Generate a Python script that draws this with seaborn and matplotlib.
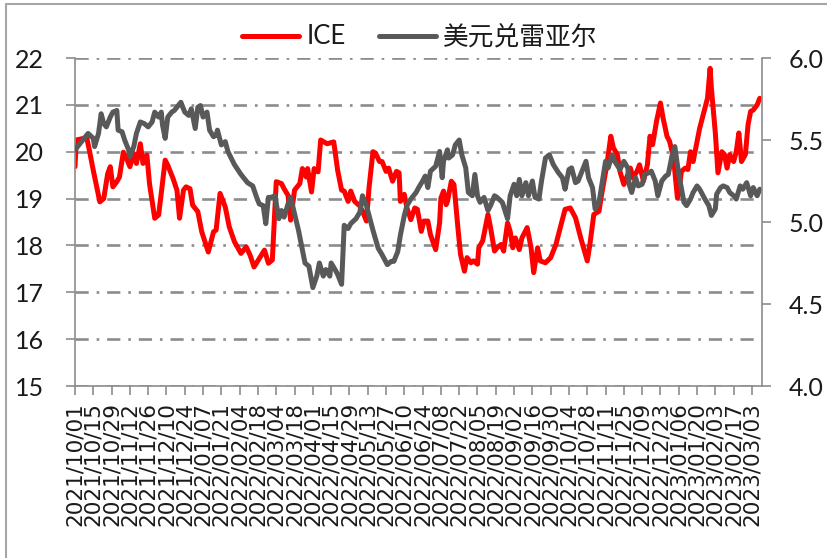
import pandas as pd
import seaborn as sns
import matplotlib.pyplot as plt
from matplotlib.lines import Line2D

sns.set_style('white')
plt.rcParams['font.family'] = ['Lato', 'Noto Sans CJK SC', 'DejaVu Sans']

# ICE raw sugar (left axis)
ice_dates = ['2021-10-01', '2021-10-02', '2021-10-10', '2021-10-12', '2021-10-15', '2021-10-20',
             '2021-10-23', '2021-10-26', '2021-10-28', '2021-10-30', '2021-11-02', '2021-11-04',
             '2021-11-07', '2021-11-09', '2021-11-12', '2021-11-15', '2021-11-17', '2021-11-20',
             '2021-11-22', '2021-11-25', '2021-11-27', '2021-12-01', '2021-12-04', '2021-12-06',
             '2021-12-09', '2021-12-11', '2021-12-15', '2021-12-18', '2021-12-20', '2021-12-23',
             '2021-12-25', '2021-12-28', '2021-12-30', '2022-01-03', '2022-01-06', '2022-01-11',
             '2022-01-15', '2022-01-17', '2022-01-20', '2022-01-24', '2022-01-27', '2022-01-31',
             '2022-02-05', '2022-02-09', '2022-02-12', '2022-02-15', '2022-02-19', '2022-02-23',
             '2022-02-26', '2022-03-01', '2022-03-04', '2022-03-08', '2022-03-10', '2022-03-13',
             '2022-03-15', '2022-03-18', '2022-03-22', '2022-03-24', '2022-03-27', '2022-03-28',
             '2022-03-31', '2022-04-02', '2022-04-05', '2022-04-07', '2022-04-12', '2022-04-17',
             '2022-04-20', '2022-04-23', '2022-04-25', '2022-04-28', '2022-04-30', '2022-05-03',
             '2022-05-07', '2022-05-09', '2022-05-12', '2022-05-14', '2022-05-17', '2022-05-19',
             '2022-05-22', '2022-05-24', '2022-05-27', '2022-05-29', '2022-06-01', '2022-06-04',
             '2022-06-06', '2022-06-07', '2022-06-10', '2022-06-12', '2022-06-15', '2022-06-18',
             '2022-06-20', '2022-06-23', '2022-06-25', '2022-06-28', '2022-06-30', '2022-07-04',
             '2022-07-07', '2022-07-08', '2022-07-10', '2022-07-12', '2022-07-13', '2022-07-16',
             '2022-07-18', '2022-07-21', '2022-07-23', '2022-07-26', '2022-07-28', '2022-07-31',
             '2022-08-02', '2022-08-05', '2022-08-06', '2022-08-09', '2022-08-13', '2022-08-15',
             '2022-08-18', '2022-08-20', '2022-08-23', '2022-08-25', '2022-08-28', '2022-08-30',
             '2022-09-01', '2022-09-03', '2022-09-06', '2022-09-08', '2022-09-12', '2022-09-15',
             '2022-09-17', '2022-09-20', '2022-09-22', '2022-09-26', '2022-09-30', '2022-10-04',
             '2022-10-08', '2022-10-11', '2022-10-15', '2022-10-19', '2022-10-23', '2022-10-28',
             '2022-10-30', '2022-11-02', '2022-11-06', '2022-11-08', '2022-11-12', '2022-11-15',
             '2022-11-17', '2022-11-20', '2022-11-22', '2022-11-25', '2022-11-28', '2022-11-30',
             '2022-12-02', '2022-12-05', '2022-12-07', '2022-12-10', '2022-12-13', '2022-12-15',
             '2022-12-17', '2022-12-20', '2022-12-23', '2022-12-25', '2022-12-28', '2022-12-30',
             '2023-01-02', '2023-01-05', '2023-01-06', '2023-01-08', '2023-01-11', '2023-01-13',
             '2023-01-15', '2023-01-17', '2023-01-20', '2023-01-22', '2023-01-25', '2023-01-28',
             '2023-01-30', '2023-01-31', '2023-02-03', '2023-02-05', '2023-02-08', '2023-02-10',
             '2023-02-12', '2023-02-14', '2023-02-17', '2023-02-19', '2023-02-21', '2023-02-23',
             '2023-02-26', '2023-02-28', '2023-03-02', '2023-03-04', '2023-03-07', '2023-03-09']
ice_values = [19.68, 20.25, 20.30, 20.03, 19.60, 18.93,
              19.00, 19.53, 19.68, 19.25, 19.36, 19.46,
              19.99, 19.89, 19.68, 19.96, 19.75, 20.17,
              19.75, 19.93, 19.32, 18.58, 18.65, 19.11,
              19.82, 19.71, 19.43, 19.18, 18.58, 19.18,
              19.25, 19.21, 18.86, 18.72, 18.29, 17.86,
              18.29, 18.33, 19.11, 18.82, 18.40, 18.08,
              17.83, 17.97, 17.79, 17.54, 17.72, 17.90,
              17.62, 17.69, 19.36, 19.32, 19.21, 19.07,
              18.54, 19.18, 19.32, 19.64, 19.46, 19.64,
              19.14, 19.64, 19.57, 20.25, 20.17, 20.21,
              19.60, 19.18, 19.16, 18.94, 19.16, 18.94,
              18.84, 18.73, 18.52, 19.23, 20.00, 19.97,
              19.79, 19.79, 19.58, 19.65, 19.37, 19.58,
              19.55, 18.94, 19.09, 18.80, 18.55, 18.80,
              18.77, 18.30, 18.52, 18.52, 18.23, 17.91,
              18.48, 19.01, 19.16, 18.87, 18.94, 19.37,
              19.30, 18.38, 17.81, 17.45, 17.74, 17.63,
              17.67, 17.60, 17.95, 18.10, 18.66, 18.38,
              17.88, 17.95, 18.02, 17.88, 18.48, 18.30,
              17.95, 18.16, 17.91, 18.16, 18.38, 17.95,
              17.42, 17.95, 17.67, 17.63, 17.74, 18.02,
              18.45, 18.77, 18.80, 18.59, 18.16, 17.67,
              18.02, 18.66, 18.73, 19.09, 19.72, 20.33,
              20.08, 19.94, 19.58, 19.30, 19.51, 19.65,
              19.44, 19.58, 19.72, 19.37, 19.72, 20.33,
              20.15, 20.65, 21.04, 20.72, 20.33, 20.22,
              19.87, 19.01, 19.09, 19.58, 19.65, 19.62,
              20.00, 19.79, 20.22, 20.50, 20.82, 21.14,
              21.78, 21.35, 20.40, 19.55, 20.00, 19.94,
              19.65, 19.94, 19.79, 20.00, 20.40, 19.79,
              19.94, 20.57, 20.86, 20.89, 21.00, 21.14]

# USD/BRL (right axis)
brl_dates = ['2021-10-01', '2021-10-06', '2021-10-11', '2021-10-15', '2021-10-16', '2021-10-19',
             '2021-10-21', '2021-10-23', '2021-10-25', '2021-10-28', '2021-10-30', '2021-11-02',
             '2021-11-03', '2021-11-06', '2021-11-08', '2021-11-11', '2021-11-12', '2021-11-15',
             '2021-11-17', '2021-11-20', '2021-11-23', '2021-11-26', '2021-11-29', '2021-12-01',
             '2021-12-04', '2021-12-06', '2021-12-07', '2021-12-09', '2021-12-11', '2021-12-14',
             '2021-12-16', '2021-12-19', '2021-12-21', '2021-12-24', '2021-12-27', '2021-12-29',
             '2022-01-01', '2022-01-03', '2022-01-05', '2022-01-07', '2022-01-10', '2022-01-12',
             '2022-01-15', '2022-01-17', '2022-01-18', '2022-01-21', '2022-01-24', '2022-01-26',
             '2022-01-31', '2022-02-05', '2022-02-10', '2022-02-14', '2022-02-17', '2022-02-19',
             '2022-02-22', '2022-02-24', '2022-02-26', '2022-02-28', '2022-03-03', '2022-03-06',
             '2022-03-08', '2022-03-10', '2022-03-13', '2022-03-15', '2022-03-18', '2022-03-21',
             '2022-03-23', '2022-03-26', '2022-03-29', '2022-04-01', '2022-04-04', '2022-04-06',
             '2022-04-09', '2022-04-11', '2022-04-14', '2022-04-15', '2022-04-18', '2022-04-20',
             '2022-04-23', '2022-04-24', '2022-04-25', '2022-04-28', '2022-04-30', '2022-05-04',
             '2022-05-07', '2022-05-09', '2022-05-12', '2022-05-14', '2022-05-17', '2022-05-21',
             '2022-05-24', '2022-05-28', '2022-05-31', '2022-06-02', '2022-06-05', '2022-06-07',
             '2022-06-10', '2022-06-12', '2022-06-15', '2022-06-19', '2022-06-21', '2022-06-24',
             '2022-06-26', '2022-06-28', '2022-06-30', '2022-07-04', '2022-07-07', '2022-07-09',
             '2022-07-10', '2022-07-13', '2022-07-14', '2022-07-17', '2022-07-19', '2022-07-22',
             '2022-07-24', '2022-07-27', '2022-07-29', '2022-08-01', '2022-08-03', '2022-08-05',
             '2022-08-07', '2022-08-10', '2022-08-13', '2022-08-15', '2022-08-18', '2022-08-20',
             '2022-08-24', '2022-08-28', '2022-08-30', '2022-09-02', '2022-09-04', '2022-09-06',
             '2022-09-08', '2022-09-11', '2022-09-13', '2022-09-16', '2022-09-18', '2022-09-21',
             '2022-09-23', '2022-09-26', '2022-09-29', '2022-10-02', '2022-10-06', '2022-10-09',
             '2022-10-11', '2022-10-14', '2022-10-16', '2022-10-19', '2022-10-21', '2022-10-24',
             '2022-10-27', '2022-10-29', '2022-11-01', '2022-11-03', '2022-11-06', '2022-11-08',
             '2022-11-11', '2022-11-13', '2022-11-16', '2022-11-18', '2022-11-22', '2022-11-25',
             '2022-11-28', '2022-11-29', '2022-12-01', '2022-12-04', '2022-12-06', '2022-12-09',
             '2022-12-11', '2022-12-14', '2022-12-16', '2022-12-19', '2022-12-21', '2022-12-24',
             '2022-12-27', '2022-12-29', '2023-01-01', '2023-01-03', '2023-01-06', '2023-01-07',
             '2023-01-10', '2023-01-12', '2023-01-15', '2023-01-17', '2023-01-20', '2023-01-22',
             '2023-01-26', '2023-01-29', '2023-01-31', '2023-02-03', '2023-02-04', '2023-02-07',
             '2023-02-09', '2023-02-12', '2023-02-14', '2023-02-17', '2023-02-19', '2023-02-22',
             '2023-02-24', '2023-02-27', '2023-03-02', '2023-03-04', '2023-03-07', '2023-03-09']
brl_values = [5.44, 5.49, 5.54, 5.51, 5.46, 5.54,
              5.66, 5.60, 5.58, 5.64, 5.67, 5.68,
              5.56, 5.55, 5.50, 5.44, 5.40, 5.46,
              5.54, 5.61, 5.60, 5.58, 5.61, 5.67,
              5.64, 5.67, 5.59, 5.51, 5.64, 5.67,
              5.68, 5.71, 5.73, 5.67, 5.65, 5.69,
              5.57, 5.70, 5.71, 5.64, 5.67, 5.56,
              5.52, 5.53, 5.56, 5.47, 5.49, 5.43,
              5.35, 5.29, 5.24, 5.22, 5.15, 5.11,
              5.10, 4.99, 5.15, 5.15, 5.16, 5.02,
              5.07, 5.03, 5.11, 5.15, 5.05, 4.95,
              4.87, 4.75, 4.73, 4.60, 4.67, 4.75,
              4.67, 4.71, 4.67, 4.75, 4.71, 4.68,
              4.62, 4.80, 4.98, 4.96, 4.99, 5.02,
              5.06, 5.16, 5.10, 5.04, 4.95, 4.84,
              4.80, 4.74, 4.76, 4.76, 4.82, 4.92,
              5.04, 5.10, 5.14, 5.18, 5.21, 5.25,
              5.28, 5.21, 5.31, 5.34, 5.43, 5.27,
              5.37, 5.44, 5.39, 5.41, 5.47, 5.50,
              5.41, 5.33, 5.18, 5.16, 5.29, 5.16,
              5.12, 5.15, 5.07, 5.10, 5.16, 5.15,
              5.12, 5.02, 5.16, 5.23, 5.16, 5.26,
              5.16, 5.24, 5.16, 5.25, 5.15, 5.14,
              5.25, 5.39, 5.41, 5.35, 5.30, 5.27,
              5.20, 5.32, 5.33, 5.24, 5.25, 5.31,
              5.37, 5.27, 5.21, 5.08, 5.12, 5.22,
              5.37, 5.33, 5.41, 5.37, 5.32, 5.37,
              5.33, 5.23, 5.18, 5.27, 5.22, 5.23,
              5.29, 5.30, 5.31, 5.25, 5.16, 5.25,
              5.28, 5.29, 5.41, 5.46, 5.29, 5.25,
              5.12, 5.10, 5.14, 5.18, 5.22, 5.20,
              5.14, 5.10, 5.04, 5.08, 5.17, 5.21,
              5.22, 5.21, 5.18, 5.16, 5.14, 5.22,
              5.20, 5.24, 5.16, 5.21, 5.16, 5.20]

series_labels = ['ICE', '美元兑雷亚尔']
tick_dates = pd.date_range('2021-10-01', '2023-03-03', freq='14D')

ice = pd.DataFrame({'date': pd.to_datetime(ice_dates), 'value': ice_values})
brl = pd.DataFrame({'date': pd.to_datetime(brl_dates), 'value': brl_values})

axis_grey = '#8c8c8c'
text_col = '#1a1a1a'

fig = plt.figure(figsize=(8.28, 5.58), dpi=100)
ax = fig.add_axes([75 / 828, 1 - 386 / 558, 687 / 828, 328 / 558])
ax2 = ax.twinx()

sns.lineplot(data=ice, x='date', y='value', ax=ax, color='#ff0000', lw=3.6,
             errorbar=None, legend=False, solid_joinstyle='round')
sns.lineplot(data=brl, x='date', y='value', ax=ax2, color='#595959', lw=3.6,
             errorbar=None, legend=False, solid_joinstyle='round')

ax.set_xlim(pd.Timestamp('2021-10-01'), pd.Timestamp('2023-03-10 17:00'))
ax.set_ylim(15, 22)
ax.set_yticks(range(15, 23))
ax2.set_ylim(4.0, 6.0)
ax2.set_yticks([4.0, 4.5, 5.0, 5.5, 6.0])
ax2.set_yticklabels([f'{v:.1f}' for v in [4.0, 4.5, 5.0, 5.5, 6.0]])

ax.set_xticks(tick_dates)
ax.set_xticklabels([d.strftime('%Y/%m/%d') for d in tick_dates], rotation=90,
                   fontsize=15.5, family='DejaVu Sans', color=text_col)

for a in (ax, ax2):
    a.set_xlabel('')
    a.set_ylabel('')
    for s in a.spines.values():
        s.set_visible(False)

ax.spines['left'].set_visible(True)
ax.spines['bottom'].set_visible(True)
ax2.spines['right'].set_visible(True)
for s in (ax.spines['left'], ax.spines['bottom'], ax2.spines['right']):
    s.set_color(axis_grey)
    s.set_linewidth(1.2)

ax.yaxis.grid(True, color=axis_grey, lw=1.9, linestyle=(0, (5, 3, 1, 3)))
ax.xaxis.grid(False)
ax.set_axisbelow(True)

ax.tick_params(axis='y', left=True, direction='out', length=6.5, width=1.2,
               color=axis_grey, labelsize=18, labelcolor=text_col, pad=16)
ax.tick_params(axis='x', bottom=True, direction='out', length=6.5, width=1.2,
               color=axis_grey, pad=5)
ax2.tick_params(axis='y', right=True, direction='out', length=6.5, width=1.2,
                color=axis_grey, labelsize=18, labelcolor=text_col, pad=12.5)

handles = [ax.lines[0], ax2.lines[0]]
fig.legend(handles, series_labels, loc='center', bbox_to_anchor=(420 / 828, 1 - 37 / 558),
           ncol=2, frameon=False, fontsize=18.5, handlelength=2.2, handletextpad=0.3,
           columnspacing=1.3, labelcolor=text_col)

# outer chart frame
fig.lines.append(Line2D([6 / 828, 1], [1 - 4 / 558, 1 - 4 / 558], transform=fig.transFigure,
                        color='#a6a6a6', lw=1.5))
fig.lines.append(Line2D([6 / 828, 6 / 828], [0, 1 - 4 / 558], transform=fig.transFigure,
                        color='#a6a6a6', lw=1.5))

fig.savefig('out.png', dpi=100)
